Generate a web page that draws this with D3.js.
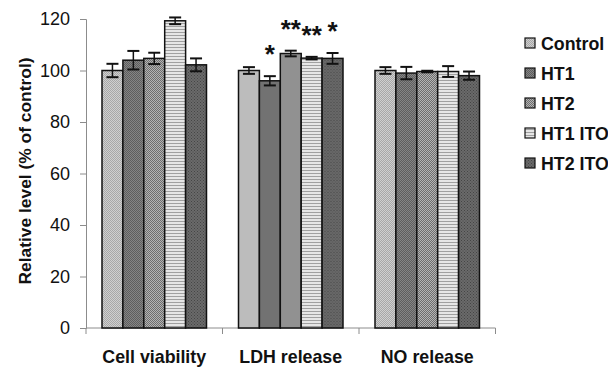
<!DOCTYPE html>
<html>
<head>
<meta charset="utf-8">
<script src="https://cdn.jsdelivr.net/npm/d3@7"></script>
<style>
  body { margin: 0; background: #fff; }
  text { font-family: "Liberation Sans", Arial, sans-serif; }
</style>
</head>
<body>
<div id="plot"></div>
<script>
const categories = ["Cell viability", "LDH release", "NO release"];
const seriesNames = ["Control", "HT1", "HT2", "HT1 ITO", "HT2 ITO"];
const values = [
  [100, 104, 104.7, 119.3, 102.2],
  [100, 96, 106.6, 104.8, 104.7],
  [100, 99, 99.6, 99.6, 98]
];
const errors = [
  [2.6, 3.6, 2.2, 1.3, 2.5],
  [1.3, 1.8, 1.1, 0.5, 2.1],
  [1.3, 2.4, 0.3, 2.1, 1.6]
];
const stars = [
  ["", "", "", "", ""],
  ["", "*", "**", "**", "*"],
  ["", "", "", "", ""]
];
const yTicks = [0, 20, 40, 60, 80, 100, 120];

const width = 608;
const height = 369;

const svg = d3
  .select("#plot")
  .append("svg")
  .attr("width", width)
  .attr("height", height);

// patterns for the bars
const defs = svg.append("defs");

function dotPattern(id, bg, fg, size) {
  const p = defs
    .append("pattern")
    .attr("id", id)
    .attr("patternUnits", "userSpaceOnUse")
    .attr("width", size)
    .attr("height", size);
  p.append("rect").attr("width", size).attr("height", size).attr("fill", bg);
  p.append("rect").attr("width", 1).attr("height", 1).attr("fill", fg);
  p.append("rect").attr("x", size / 2).attr("y", size / 2).attr("width", 1).attr("height", 1).attr("fill", fg);
}
dotPattern("p0", "#d0d0d0", "#a8a8a8", 2);
dotPattern("p1", "#858585", "#5e5e5e", 2);
dotPattern("p2", "#b4b4b4", "#6e6e6e", 2);
dotPattern("p4", "#6a6a6a", "#454545", 3);

const stripes = defs
  .append("pattern")
  .attr("id", "p3")
  .attr("patternUnits", "userSpaceOnUse")
  .attr("width", 4)
  .attr("height", 3);
stripes.append("rect").attr("width", 4).attr("height", 3).attr("fill", "#e6e6e6");
stripes.append("rect").attr("y", 2).attr("width", 4).attr("height", 1).attr("fill", "#a0a0a0");

const fills = ["url(#p0)", "url(#p1)", "url(#p2)", "url(#p3)", "url(#p4)"];

const y = d3.scaleLinear().domain([0, 120]).range([328, 19]);

const x0 = d3.scaleBand().domain(categories).range([86, 495.5]).padding(0);

const x1 = d3
  .scaleBand()
  .domain(seriesNames)
  .range([16, x0.bandwidth() - 16])
  .padding(0);

// y axis
const yAxis = d3.axisLeft(y).tickValues(yTicks).tickSize(6).tickPadding(10);
const gy = svg.append("g").attr("transform", "translate(86,0)").call(yAxis);
gy.selectAll("path, line").attr("stroke", "#8c8c8c");
gy.selectAll("text").attr("font-size", 18).attr("fill", "#111");

// x axis
const xAxis = svg.append("g").attr("transform", "translate(0,328)");
xAxis
  .append("line")
  .attr("x1", x0.range()[0])
  .attr("x2", x0.range()[1])
  .attr("stroke", "#8c8c8c");
xAxis
  .selectAll(".tick")
  .data(categories.concat([null]))
  .enter()
  .append("line")
  .attr("x1", (d, i) => x0.range()[0] + i * x0.step())
  .attr("x2", (d, i) => x0.range()[0] + i * x0.step())
  .attr("y1", 0)
  .attr("y2", 6)
  .attr("stroke", "#8c8c8c");
xAxis
  .selectAll(".cat")
  .data(categories)
  .enter()
  .append("text")
  .attr("x", (d) => x0(d) + x0.bandwidth() / 2)
  .attr("y", 35)
  .attr("text-anchor", "middle")
  .attr("font-size", 17.8)
  .attr("font-weight", "bold")
  .attr("fill", "#111")
  .text((d) => d);

// y label
svg
  .append("text")
  .attr("transform", "translate(31,171) rotate(-90)")
  .attr("text-anchor", "middle")
  .attr("font-size", 17.4)
  .attr("font-weight", "bold")
  .attr("fill", "#111")
  .text("Relative level (% of control)");

// bars
const groups = svg
  .selectAll(".group")
  .data(categories)
  .enter()
  .append("g")
  .attr("transform", (d) => `translate(${x0(d)},0)`);

groups.each(function (cat, ci) {
  const g = d3.select(this);
  const rows = seriesNames.map((s, si) => ({
    s: s,
    v: values[ci][si],
    e: errors[ci][si],
    star: stars[ci][si],
    fill: fills[si],
  }));

  g.selectAll("rect")
    .data(rows)
    .enter()
    .append("rect")
    .attr("x", (d) => x1(d.s))
    .attr("y", (d) => y(d.v))
    .attr("width", x1.bandwidth())
    .attr("height", (d) => y(0) - y(d.v))
    .attr("fill", (d) => d.fill)
    .attr("stroke", "#111")
    .attr("stroke-width", 1.5);

  const eb = g.selectAll(".err").data(rows).enter().append("g");
  const cx = (d) => x1(d.s) + x1.bandwidth() / 2;
  eb.append("line")
    .attr("x1", cx)
    .attr("x2", cx)
    .attr("y1", (d) => y(d.v + d.e))
    .attr("y2", (d) => y(d.v - d.e))
    .attr("stroke", "#111")
    .attr("stroke-width", 1.5);
  eb.append("line")
    .attr("x1", (d) => cx(d) - 6)
    .attr("x2", (d) => cx(d) + 6)
    .attr("y1", (d) => y(d.v + d.e))
    .attr("y2", (d) => y(d.v + d.e))
    .attr("stroke", "#111")
    .attr("stroke-width", 2);
  eb.append("line")
    .attr("x1", (d) => cx(d) - 6)
    .attr("x2", (d) => cx(d) + 6)
    .attr("y1", (d) => y(d.v - d.e))
    .attr("y2", (d) => y(d.v - d.e))
    .attr("stroke", "#111")
    .attr("stroke-width", 2);

  g.selectAll(".star")
    .data(rows.filter((d) => d.star !== ""))
    .enter()
    .append("text")
    .attr("x", cx)
    .attr("y", (d) => y(d.v + d.e) - 13)
    .attr("text-anchor", "middle")
    .attr("font-size", 26)
    .attr("font-weight", "bold")
    .attr("fill", "#111")
    .text((d) => d.star);
});

// legend
const legend = svg
  .append("g")
  .attr("transform", "translate(525,43)");

const items = legend
  .selectAll(".item")
  .data(seriesNames)
  .enter()
  .append("g")
  .attr("transform", (d, i) => `translate(0,${i * 30})`);

items
  .append("rect")
  .attr("x", 0)
  .attr("y", -5)
  .attr("width", 10)
  .attr("height", 10)
  .attr("fill", (d, i) => fills[i])
  .attr("stroke", "#111")
  .attr("stroke-width", 1.2);

items
  .append("text")
  .attr("x", 16)
  .attr("y", 6.5)
  .attr("font-size", 17.8)
  .attr("font-weight", "bold")
  .attr("fill", "#111")
  .text((d) => d);
</script>
</body>
</html>
